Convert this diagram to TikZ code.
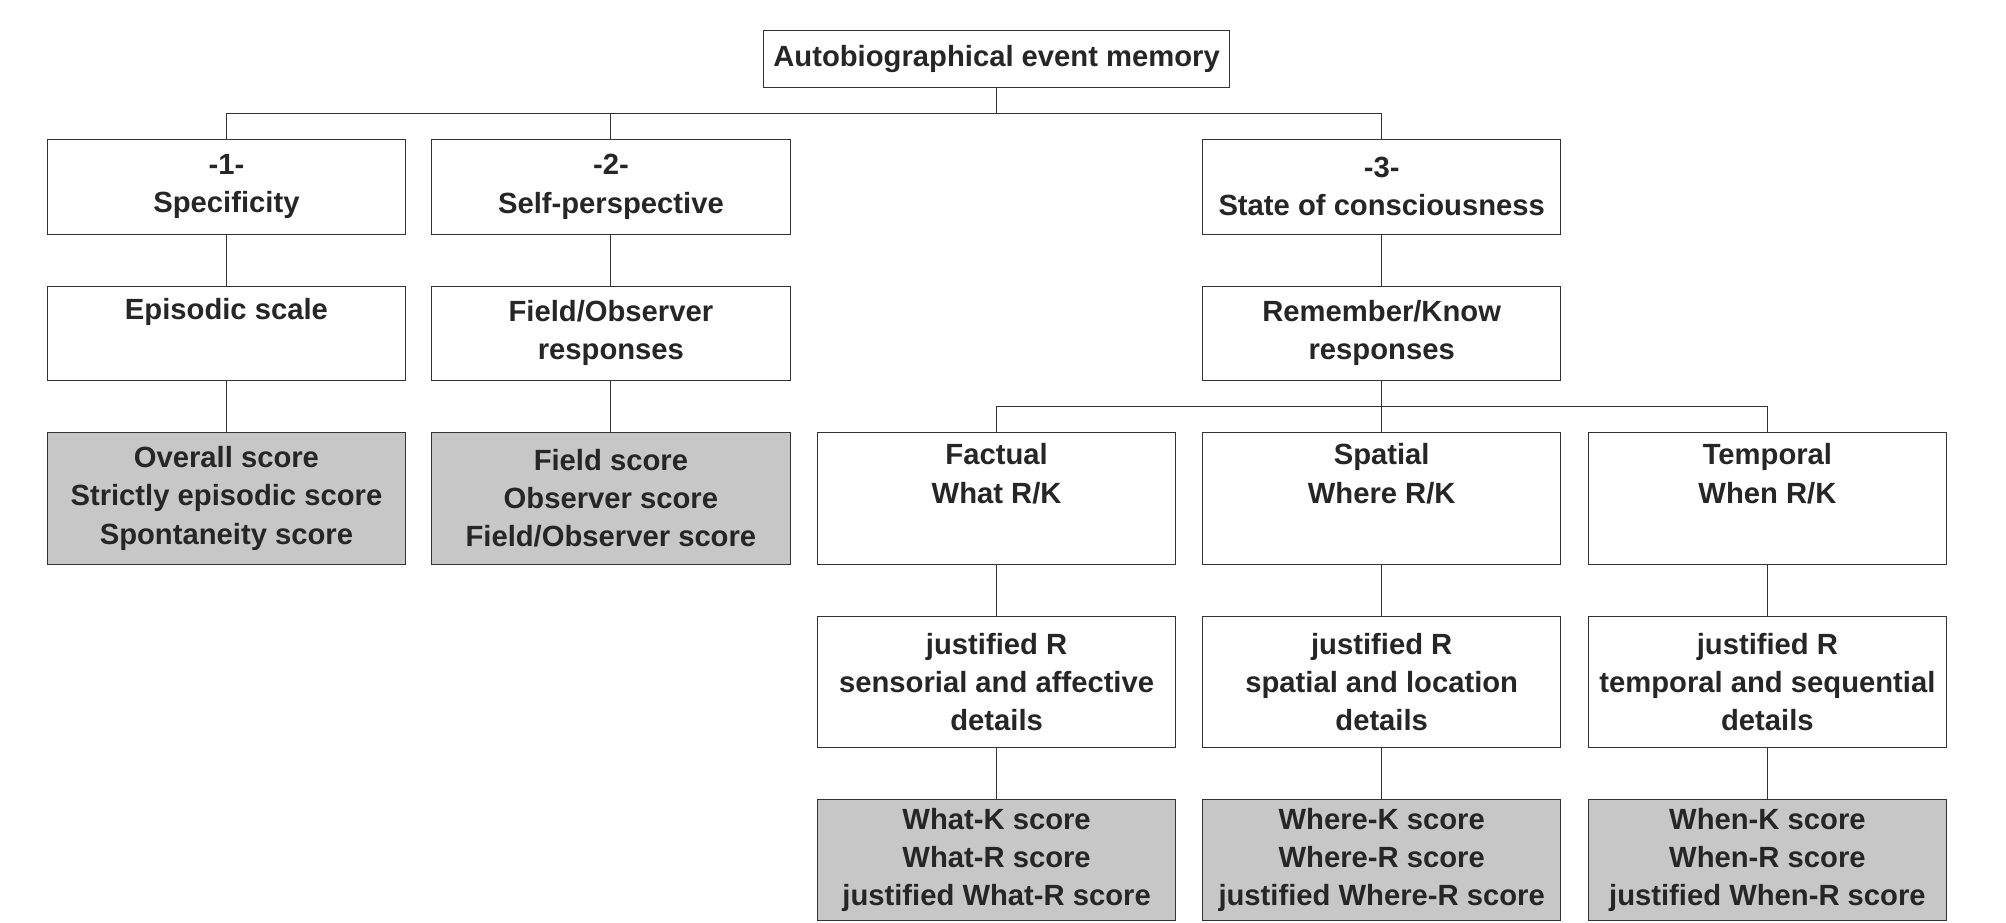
\documentclass[tikz,border=0pt]{standalone}
\usepackage{fontspec}
\setmainfont{Liberation Sans}
\begin{document}
\begin{tikzpicture}[x=0.02cm,y=-0.02cm,draw=black!80]
    \tikzstyle{box}=[draw,rectangle,align=center,inner sep=2pt,minimum width=5.6cm,font=\fontsize{13}{17}\selectfont\bfseries,text=black!85]
    \tikzstyle{short box}=[box,minimum height=1.48cm]
    \tikzstyle{tall box}=[box,minimum height=2.06cm]
    \tikzstyle{score box}=[tall box,fill=black!22]
    \tikzstyle{link}=[-]
    \useasboundingbox (0,0) rectangle (1568,721);

    % top
    \node[box,minimum width=7.28cm,minimum height=0.88cm] (top) at (779,46) {Autobiographical event memory};

    % three dimensions
    \node[short box] (D-1) at (177,146) {-1-\\Specificity};
    \node[short box] (D-2) at (477.5,146) {-2-\\Self-perspective};
    \node[short box] (D-3) at (1080,146) {-3-\\State of consciousness};

    \node[short box] (M-1) at (177,260.5) {Episodic scale\\\strut};
    \node[short box] (M-2) at (477.5,260.5) {Field/Observer\\responses};
    \node[short box] (M-3) at (1080,260.5) {Remember/Know\\responses};

    \node[score box] (S-1) at (177,389.5) {Overall score\\Strictly episodic score\\Spontaneity score};
    \node[score box] (S-2) at (477.5,389.5) {Field score\\Observer score\\Field/Observer score};

    % remember/know branches
    \node[tall box] (K-1) at (779,389.5) {Factual\\What R/K\\\strut};
    \node[tall box] (K-2) at (1080,389.5) {Spatial\\Where R/K\\\strut};
    \node[tall box] (K-3) at (1381.5,389.5) {Temporal\\When R/K\\\strut};

    \node[tall box] (J-1) at (779,533) {justified R\\sensorial and affective\\details};
    \node[tall box] (J-2) at (1080,533) {justified R\\spatial and location\\details};
    \node[tall box] (J-3) at (1381.5,533) {justified R\\temporal and sequential\\details};

    \node[score box,minimum height=1.9cm] (R-1) at (779,672) {What-K score\\What-R score\\justified What-R score};
    \node[score box,minimum height=1.9cm] (R-2) at (1080,672) {Where-K score\\Where-R score\\justified Where-R score};
    \node[score box,minimum height=1.9cm] (R-3) at (1381.5,672) {When-K score\\When-R score\\justified When-R score};

    % connectors
    \coordinate (T) at (779,89);
    \coordinate (B) at (1080,318);
    \draw[link] (top) -- (T);
    \foreach \n in {1,2,3}
        \draw[link] (T) -| (D-\n);
    \foreach \n in {1,2,3}
        \draw[link] (D-\n) -- (M-\n);
    \foreach \n in {1,2}
        \draw[link] (M-\n) -- (S-\n);
    \draw[link] (M-3) -- (B);
    \foreach \n in {1,2,3}
        \draw[link] (B) -| (K-\n);
    \foreach \n in {1,2,3}
    {
        \draw[link] (K-\n) -- (J-\n);
        \draw[link] (J-\n) -- (R-\n);
    }
\end{tikzpicture}
\end{document}
